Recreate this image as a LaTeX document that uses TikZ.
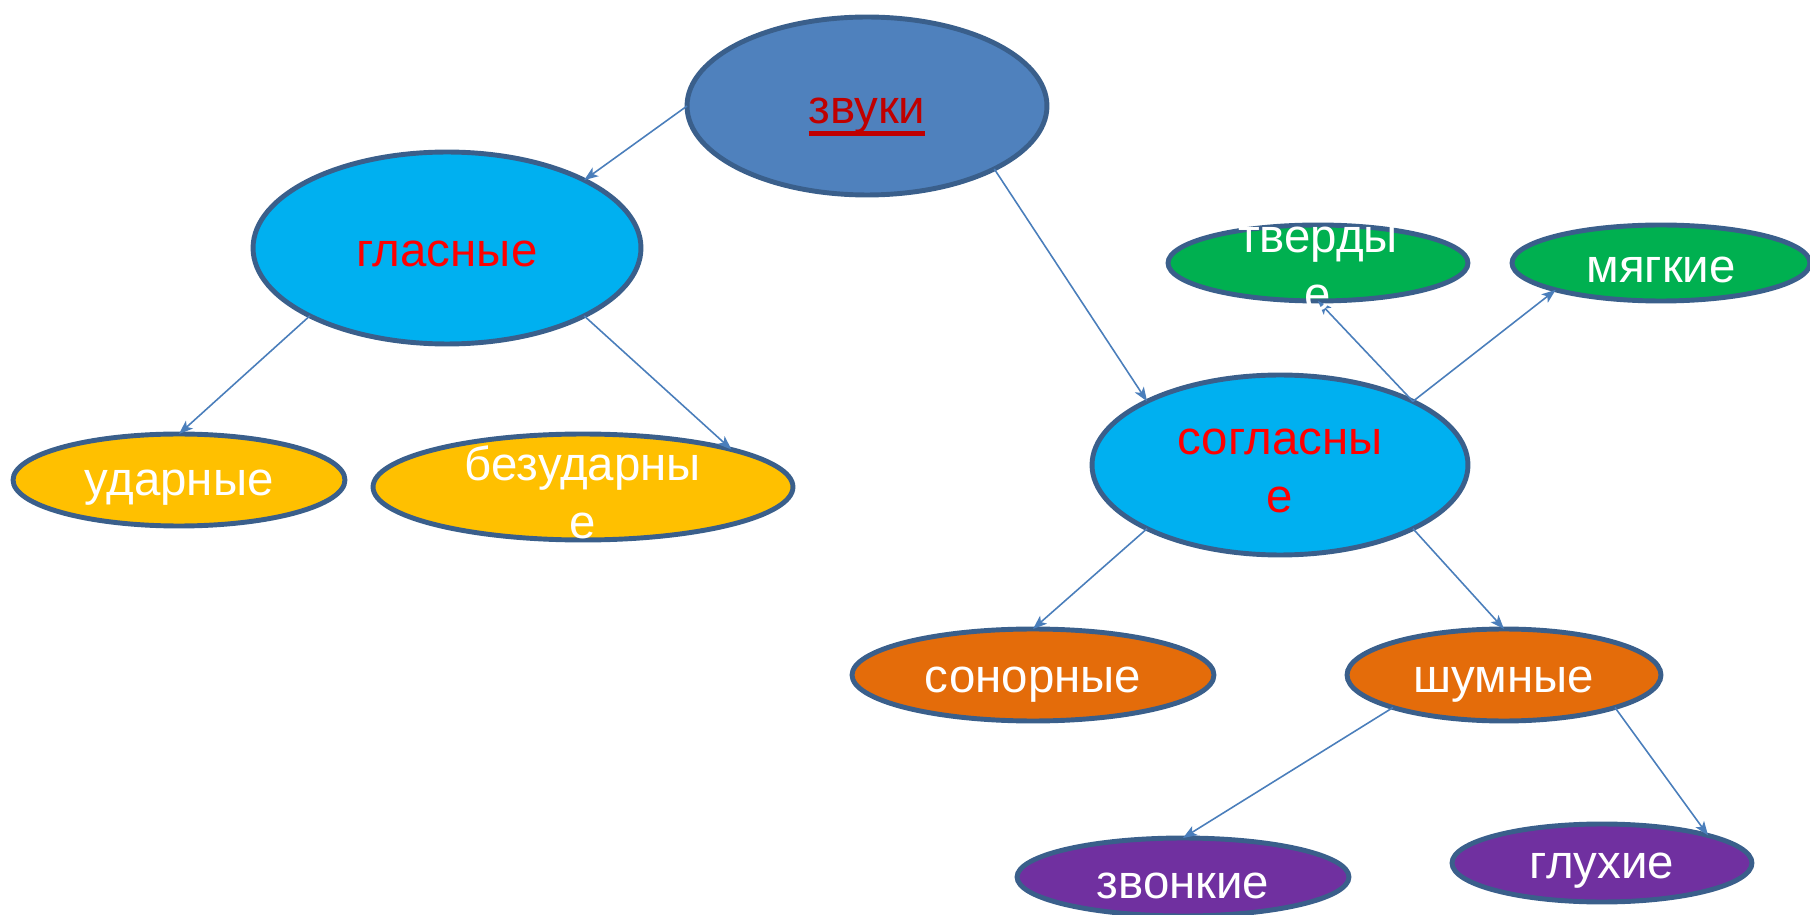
\documentclass[tikz,border=0pt]{standalone}
\usepackage{fontspec}
\setmainfont{Liberation Sans}
\usetikzlibrary{shapes.geometric,arrows.meta}
\definecolor{rim}{HTML}{3A5F8B}
\definecolor{linkblue}{HTML}{4A7EBB}
\definecolor{topblue}{HTML}{4F81BD}
\definecolor{skyblue}{HTML}{00B0F0}
\definecolor{amber}{HTML}{FFC000}
\definecolor{leaf}{HTML}{00B050}
\definecolor{rust}{HTML}{E46C0A}
\definecolor{plum}{HTML}{7030A0}
\definecolor{darkred}{HTML}{C00000}
\newcommand{\ulword}[1]{\setbox0=\hbox{#1}\rlap{\copy0}\raisebox{-7pt}{\rule{\wd0}{2.6pt}}}
\tikzset{
  oval/.style={ellipse,draw=rim,line width=2.8pt,inner sep=0pt,outer sep=0pt},
  word/.style={font=\fontsize{27}{33}\selectfont,align=center,text=white,inner sep=0pt},
  link/.style={draw=linkblue,line width=0.9pt,-{Stealth[length=8pt,width=6pt,inset=2pt]}}
}

\begin{document}
\begin{tikzpicture}[x=0.02cm,y=-0.02cm]
\useasboundingbox (0,0) rectangle (1810,915);
\node[oval,fill=topblue,minimum width=7.2cm,minimum height=3.56cm](zv)at(867,106){};
\node[oval,fill=skyblue,minimum width=7.76cm,minimum height=3.84cm](gl)at(447,248){};
\node[oval,fill=amber,minimum width=6.64cm,minimum height=1.84cm](ud)at(179,480){};
\node[oval,fill=amber,minimum width=8.4cm,minimum height=2.12cm](bez)at(583,487){};
\node[oval,fill=skyblue,minimum width=7.52cm,minimum height=3.6cm](sog)at(1280,465){};
\node[oval,fill=leaf,minimum width=6cm,minimum height=1.52cm](tv)at(1318,263){};
\node[oval,fill=leaf,minimum width=5.96cm,minimum height=1.52cm](mg)at(1661,263){};
\node[oval,fill=rust,minimum width=7.24cm,minimum height=1.84cm](son)at(1033,675){};
\node[oval,fill=rust,minimum width=6.28cm,minimum height=1.84cm](sh)at(1504,675){};
\node[oval,fill=plum,minimum width=6.64cm,minimum height=1.56cm](zk)at(1183,877){};
\node[oval,fill=plum,minimum width=6cm,minimum height=1.56cm](gx)at(1602,863){};
\draw[link](zv.west)--(gl.north east);
\draw[link](zv.south east)--(sog.north west);
\draw[link](gl.south west)--(ud.north);
\draw[link](gl.south east)--(bez.north east);
\draw[link](sog.north east)--(tv.south);
\draw[link](sog.north east)--(mg.south west);
\draw[link](sog.south west)--(son.north);
\draw[link](sog.south east)--(sh.north);
\draw[link](sh.south west)--(zk.north);
\draw[link](sh.south east)--(gx.north east);
\node[word,text=darkred](zv-t)at(867,117){\ulword{звуки}};
\node[word,text=red](gl-t)at(447,254){гласные};
\node[word](ud-t)at(179,488){ударные};
\node[word](bez-t)at(583,492){безударны\\е};
\node[word,text=red](sog-t)at(1280,471){согласны\\е};
\node[word](tv-t)at(1318,269){тверды\\е};
\node[word](mg-t)at(1661,270){мягкие};
\node[word](son-t)at(1033,685){сонорные};
\node[word](sh-t)at(1504,685){шумные};
\node[word](zk-t)at(1183,886){звонкие};
\node[word](gx-t)at(1602,871){глухие};
\end{tikzpicture}
\end{document}
